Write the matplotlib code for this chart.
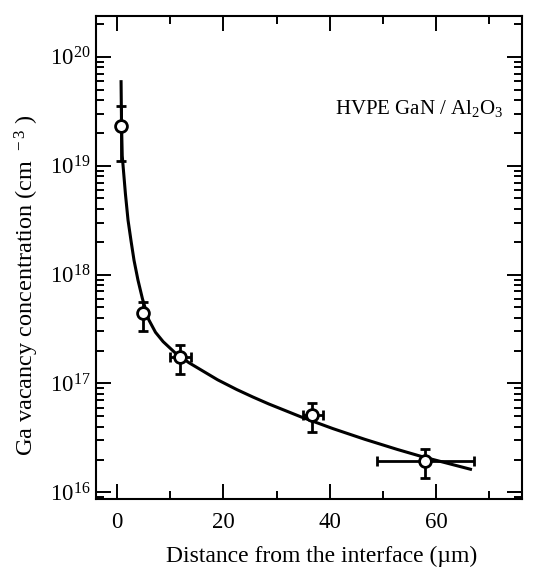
import matplotlib
matplotlib.use("Agg")
import matplotlib.pyplot as plt
from matplotlib.ticker import FixedLocator, LogLocator, FuncFormatter, NullFormatter
import numpy as np

plt.rcParams['font.family'] = ['Liberation Serif', 'DejaVu Serif']
plt.rcParams['mathtext.fontset'] = 'custom'
plt.rcParams['mathtext.rm'] = 'Liberation Serif'
plt.rcParams['mathtext.it'] = 'Liberation Serif:italic'

# measured data points
depth_um = [0.8, 4.85, 11.8, 36.7, 57.9]
conc = [2.32e19, 4.46e17, 1.74e17, 5.15e16, 1.95e16]
conc_low = [1.10e19, 3.02e17, 1.21e17, 3.56e16, 1.36e16]
conc_high = [3.54e19, 5.60e17, 2.27e17, 6.60e16, 2.50e16]
depth_low = [0.8, 4.85, 9.9, 34.9, 48.9]
depth_high = [0.8, 4.85, 13.8, 38.8, 67.1]

# fitted curve
fit_x = [0.72, 0.80, 0.94, 1.54, 2.03, 2.62, 3.16, 3.9, 4.74, 5.46, 5.93, 7.2, 8.64,
         10.8, 13.5, 18.9, 22.5, 25.5, 28.5, 34.6, 40.6, 46.6, 52.7, 57.5, 66.5]
fit_y = [5.9e19, 2.5e19, 1.23e19, 5.5e18, 3.16e18, 2.0e18, 1.35e18, 8.9e17, 6.0e17,
         4.57e17, 3.85e17, 2.95e17, 2.42e17, 1.93e17, 1.55e17, 1.08e17, 8.79e16,
         7.52e16, 6.49e16, 4.93e16, 3.85e16, 3.07e16, 2.48e16, 2.12e16, 1.63e16]

x_major = [0, 20, 40, 60]
x_minor = [10, 30, 50, 70]

fig = plt.figure(figsize=(5.49, 5.72), dpi=100)
ax = fig.add_axes([96/549, 1 - 499/572, 426/549, 483/572])

ax.plot(fit_x, fit_y, color='black', lw=2.2, zorder=2)

x = np.array(depth_um); y = np.array(conc)
yerr = [y - np.array(conc_low), np.array(conc_high) - y]
xerr = [x - np.array(depth_low), np.array(depth_high) - x]
ax.errorbar(x, y, yerr=yerr, xerr=xerr, fmt='none', ecolor='black',
            elinewidth=2.0, capsize=3.4, capthick=2.0, zorder=3)
ax.plot(x, y, 'o', ms=8.5, mfc='white', mec='black', mew=2.0, zorder=4)

ax.set_yscale('log')
ax.set_xlim(-4.0, 76.2)
ax.set_ylim(10**15.939, 10**20.374)

ax.xaxis.set_major_locator(FixedLocator(x_major))
ax.xaxis.set_minor_locator(FixedLocator(x_minor))
ax.yaxis.set_major_locator(LogLocator(base=10, numticks=10))
ax.yaxis.set_minor_locator(LogLocator(base=10, subs=np.arange(2, 10), numticks=20))
ax.yaxis.set_minor_formatter(NullFormatter())
ax.yaxis.set_major_formatter(FuncFormatter(lambda v, p: r'$\mathregular{10^{%d}}$' % round(np.log10(v))))

ax.tick_params(which='both', direction='in', top=True, right=True, width=1.4,
               labelsize=16.5, colors='black')
ax.tick_params(which='major', length=11)
ax.tick_params(axis='x', which='major', pad=9)
ax.tick_params(axis='y', which='major', pad=4)
ax.tick_params(which='minor', length=6)
for s in ax.spines.values():
    s.set_linewidth(1.5)

ax.set_xlabel('Distance from the interface (\u00b5m)', fontsize=17)
ax.xaxis.label.set_va('center')
ax.xaxis.set_label_coords(0.53, -0.118)
ax.set_ylabel(r'Ga vacancy concentration (cm$^{\;\;-3}$ )', fontsize=17.5)
ax.yaxis.label.set_va('center')
ax.yaxis.set_label_coords(-0.162, 0.443)

ax.text(41.0, 10**19.528, 'HVPE GaN / Al$_2$O$_3$', fontsize=15, va='center', ha='left')

fig.savefig('out.png', dpi=100)
